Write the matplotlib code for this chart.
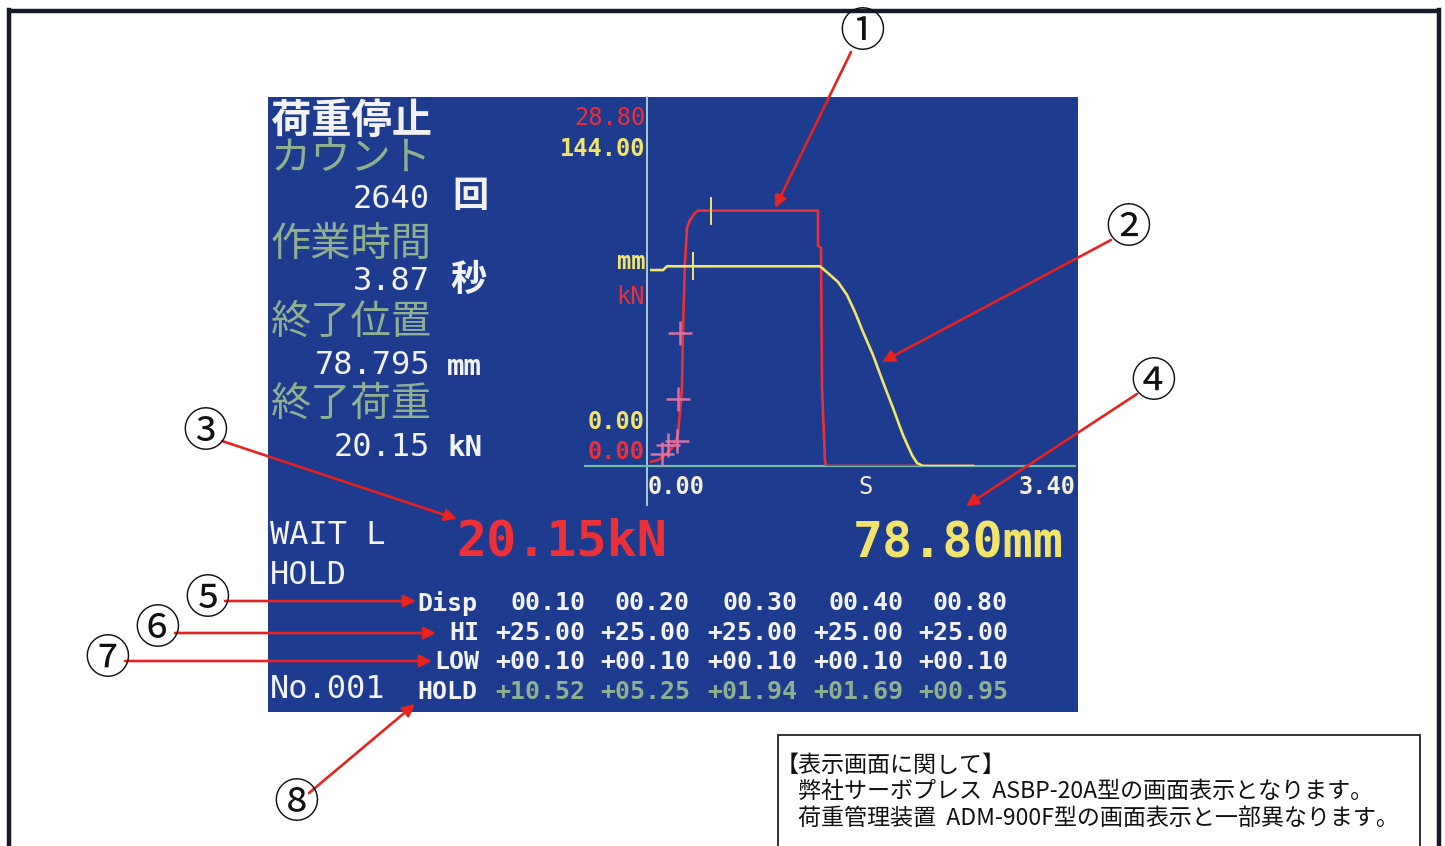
import matplotlib
matplotlib.use('Agg')
import matplotlib.pyplot as plt
from matplotlib.patches import Rectangle

# servo press screen: load (kN) and displacement (mm) against time (s)
load_t = [0.00, 0.064, 0.12, 0.176, 0.224, 0.256, 0.264, 0.28, 0.296, 0.32,
          0.36, 0.384, 1.344, 1.344, 1.368, 1.376, 1.40, 1.416, 2.584]
load_kn = [0.32, 0.47, 0.87, 1.42, 2.45, 6.16, 10.9, 16.1, 18.8, 19.4,
           19.97, 20.15, 20.15, 17.4, 17.2, 6.16, 0.32, 0.0, 0.0]

disp_t = [0.00, 0.104, 0.136, 1.36, 1.424, 1.504, 1.576, 1.64, 1.704, 1.784,
          1.864, 1.944, 2.024, 2.096, 2.136, 2.184, 2.584]
disp_mm = [77.3, 77.3, 78.8, 78.8, 76.1, 72.6, 67.5, 60.7, 52.9, 43.8,
           33.1, 22.9, 12.2, 4.3, 1.2, 0.0, 0.0]

# judgement table
disp_points = [0.10, 0.20, 0.30, 0.40, 0.80]
hi_limits = [25.00, 25.00, 25.00, 25.00, 25.00]
low_limits = [0.10, 0.10, 0.10, 0.10, 0.10]
hold_loads = [10.52, 5.25, 1.94, 1.69, 0.95]
hold_t = [0.24, 0.224, 0.216, 0.144, 0.096]

# marks on the curves
end_mark_t = [0.488]
end_mark_kn = [20.15]
pos_mark_t = [0.344]
pos_mark_mm = [78.8]

kn_max = 28.80
mm_max = 144.00
t_max = 3.40

count = 2640
work_time = 3.87
end_pos = 78.795
end_load = 20.15
live_load = 20.15
live_pos = 78.80

W, H = 1445, 846
MONO = 'DejaVu Sans Mono'
JP = 'Noto Sans CJK JP'
BLUE = '#1d3b8f'
WHITE = '#f2f2f2'
GREEN = '#8fb08f'
RED = '#ec3038'
YELLOW = '#f2e46a'
PINK = '#e878a8'
ARROW = '#e8221e'

fig = plt.figure(figsize=(W / 100, H / 100), dpi=100)
fig.patch.set_facecolor('white')

bg = fig.add_axes([0, 0, 1, 1], zorder=0)
bg.set_xlim(0, W)
bg.set_ylim(H, 0)
bg.axis('off')

# page frame
frame = '#161b2a'
bg.plot([9, 1439], [11, 11], color=frame, lw=3.2, solid_capstyle='butt')
bg.plot([9, 9], [10, H], color=frame, lw=3.2)
bg.plot([1439, 1439], [10, H], color=frame, lw=3.2)

# screen
bg.add_patch(Rectangle((268, 97), 810, 615, facecolor=BLUE, edgecolor='none'))
bg.plot([647, 647], [97, 505], color='#a9cbd6', lw=1.4)
bg.plot([585, 1075], [466, 466], color='#72b8a2', lw=1.6)

# left status column
def jp(x, y, s, c, size=29, ha='left', weight='normal'):
    bg.text(x, y, s, color=c, fontsize=size, family=JP, ha=ha, va='center',
            fontweight=weight)

def mono(x, y, s, c, size=23, ha='left', weight='bold'):
    bg.text(x, y, s, color=c, fontsize=size, family=MONO, ha=ha, va='center',
            fontweight=weight)

jp(271, 121, '荷重停止', WHITE, weight='bold')
jp(271, 158, 'カウント', GREEN)
mono(430, 199, str(count), WHITE, ha='right', weight='normal')
jp(452, 197, '回', WHITE, size=26, weight='bold')
jp(271, 244, '作業時間', GREEN)
mono(430, 282, f'{work_time:.2f}', WHITE, ha='right', weight='normal')
jp(450, 280, '秒', WHITE, size=26, weight='bold')
jp(271, 322, '終了位置', GREEN)
mono(430, 365, f'{end_pos:.3f}', WHITE, ha='right', weight='normal')
mono(447, 367, 'mm', WHITE, size=21)
jp(271, 404, '終了荷重', GREEN)
mono(430, 448, f'{end_load:.2f}', WHITE, ha='right', weight='normal')
mono(447, 448, 'kN', WHITE, size=21)

mono(270, 536, 'WAIT L', WHITE, weight='normal')
mono(270, 576, 'HOLD', WHITE, weight='normal')
mono(270, 690, 'No.001', WHITE, weight='normal')

# chart scale labels
mono(645, 118, f'{kn_max:.2f}', RED, size=17, ha='right', weight='normal')
mono(645, 149, f'{mm_max:.2f}', YELLOW, size=17, ha='right')
mono(645, 262, 'mm', YELLOW, size=17, ha='right')
mono(645, 297, 'kN', RED, size=17, ha='right', weight='normal')
mono(645, 422, '0.00', YELLOW, size=17, ha='right')
mono(645, 452, '0.00', RED, size=17, ha='right')
mono(648, 487, '0.00', '#f4f0d8', size=17)
mono(865, 487, 'S', '#f4f0d8', size=17, ha='center', weight='normal')
mono(1076, 487, f'{t_max:.2f}', '#f4f0d8', size=17, ha='right')

# live values
mono(456, 542, f'{live_load:.2f}kN', RED, size=36)
mono(853, 544, f'{live_pos:.2f}mm', YELLOW, size=36)

# judgement table
col_right = [585, 690, 797, 903, 1008]
row_y = [603, 633, 662, 692]
mono(417, row_y[0], 'Disp', WHITE, size=18)
mono(479, row_y[1], 'HI', WHITE, size=18, ha='right')
mono(479, row_y[2], 'LOW', WHITE, size=18, ha='right')
mono(417, row_y[3], 'HOLD', WHITE, size=18)
for i, x in enumerate(col_right):
    mono(x, row_y[0], format(disp_points[i], '05.2f'), WHITE, size=18, ha='right')
    mono(x, row_y[1], format(hi_limits[i], '+06.2f'), WHITE, size=18, ha='right')
    mono(x, row_y[2], format(low_limits[i], '+06.2f'), WHITE, size=18, ha='right')
    mono(x, row_y[3], format(hold_loads[i], '+06.2f'), GREEN, size=18, ha='right')

# note box
bg.add_patch(Rectangle((778, 735), 642, 130, facecolor='white',
                       edgecolor='#222222', lw=1.3))
bg.text(776, 765, '【表示画面に関して】', fontsize=16.6, family=JP,
        color='#111111', va='center', ha='left')
bg.text(798, 791, '弊社サーボプレス  ASBP-20A型の画面表示となります。',
        fontsize=16.6, family=JP, color='#111111', va='center', ha='left')
bg.text(798, 818, '荷重管理装置  ADM-900F型の画面表示と一部異なります。',
        fontsize=16.6, family=JP, color='#111111', va='center', ha='left')

# curves
ax = fig.add_axes([650 / W, 1 - 466 / H, 425 / W, 365 / H], zorder=1)
ax.set_xlim(0, t_max)
ax.set_ylim(0, kn_max)
ax.axis('off')
ax2 = ax.twinx()
ax2.set_zorder(2)
ax2.set_ylim(0, mm_max)
ax2.axis('off')

ax.plot(load_t, load_kn, color=RED, lw=1.9)
ax.plot(hold_t, hold_loads, ls='none', marker='+', ms=17, mew=1.8,
        color=PINK, alpha=0.9)
ax.plot(end_mark_t, end_mark_kn, ls='none', marker='|', ms=20, mew=1.4,
        color=YELLOW)
ax2.plot(disp_t, disp_mm, color=YELLOW, lw=1.9)
ax2.plot(pos_mark_t, pos_mark_mm, ls='none', marker='|', ms=20, mew=1.4,
         color=YELLOW)

# callouts
fg = fig.add_axes([0, 0, 1, 1], zorder=3)
fg.set_xlim(0, W)
fg.set_ylim(H, 0)
fg.axis('off')
fg.patch.set_alpha(0)

callouts = [
    ('①', (862, 33), (851, 52), (775, 208)),
    ('②', (1128, 229), (1111, 240), (882, 362)),
    ('③', (205, 433), (222, 441), (457, 519)),
    ('④', (1153, 383), (1137, 394), (966, 506)),
    ('⑤', (207, 600), (225, 601), (416, 601)),
    ('⑥', (157, 630), (175, 633), (436, 633)),
    ('⑦', (107, 660), (125, 661), (432, 661)),
    ('⑧', (296, 804), (309, 793), (415, 704)),
]
for label, pos, start, tip in callouts:
    fg.annotate('', xy=tip, xytext=start,
                arrowprops=dict(arrowstyle='-|>', color=ARROW, lw=1.9,
                                mutation_scale=18, shrinkA=0, shrinkB=0))
    fg.text(pos[0], pos[1], label, fontsize=33, family=JP, color='#111111',
            ha='center', va='center')

fig.savefig('out.png', dpi=100, facecolor=fig.get_facecolor())
